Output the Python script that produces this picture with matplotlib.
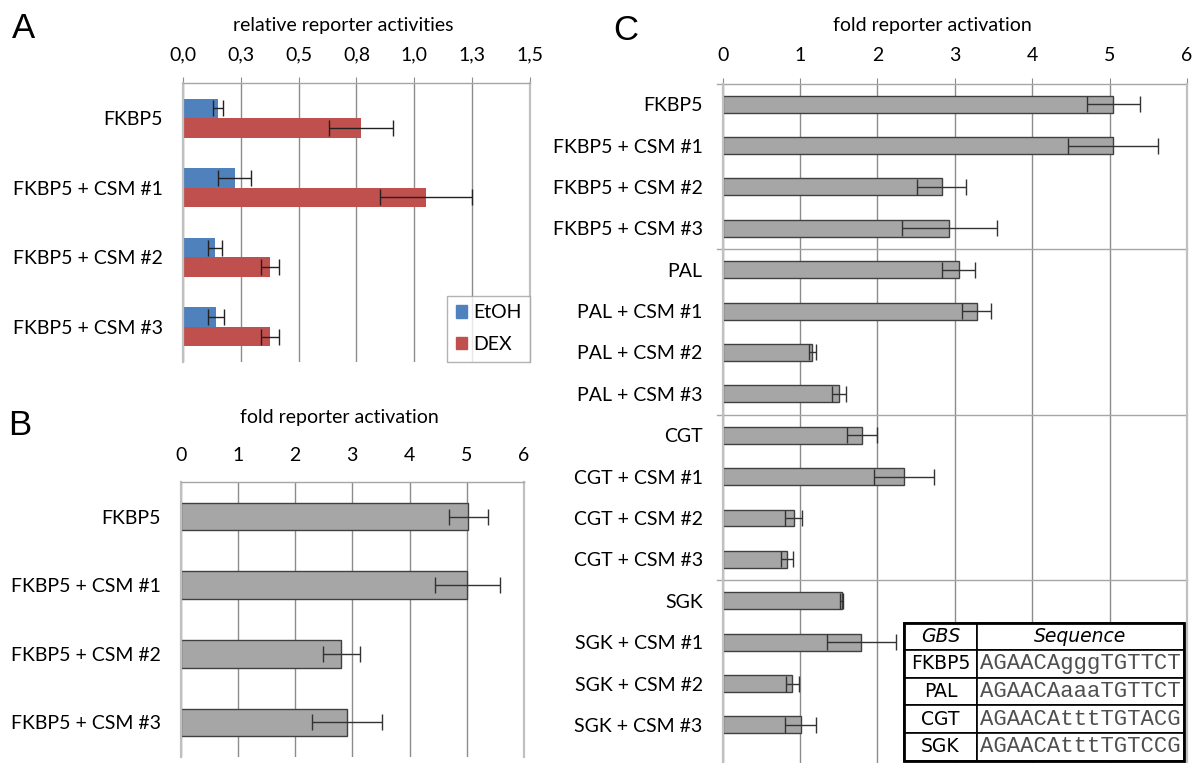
import matplotlib
matplotlib.use("Agg")
import matplotlib.pyplot as plt
from matplotlib.patches import Patch, Rectangle

plt.rcParams["font.family"] = ["Lato", "DejaVu Sans"]

W, H = 1194, 763

# panel A: relative reporter activities
a_labels = ["FKBP5", "FKBP5 + CSM #1", "FKBP5 + CSM #2", "FKBP5 + CSM #3"]
a_etoh = [0.152, 0.224, 0.141, 0.145]
a_etoh_err = [0.021, 0.072, 0.030, 0.034]
a_dex = [0.770, 1.049, 0.378, 0.378]
a_dex_err = [0.137, 0.199, 0.038, 0.038]
a_ticks = [0.0, 0.25, 0.5, 0.75, 1.0, 1.25, 1.5]
a_ticklabels = ["0,0", "0,3", "0,5", "0,8", "1,0", "1,3", "1,5"]

# panel B: fold reporter activation
b_labels = ["FKBP5", "FKBP5 + CSM #1", "FKBP5 + CSM #2", "FKBP5 + CSM #3"]
b_vals = [5.03, 5.01, 2.81, 2.91]
b_err = [0.345, 0.565, 0.32, 0.61]

# panel C: fold reporter activation, four GBS
c_labels = [
    "FKBP5", "FKBP5 + CSM #1", "FKBP5 + CSM #2", "FKBP5 + CSM #3",
    "PAL", "PAL + CSM #1", "PAL + CSM #2", "PAL + CSM #3",
    "CGT", "CGT + CSM #1", "CGT + CSM #2", "CGT + CSM #3",
    "SGK", "SGK + CSM #1", "SGK + CSM #2", "SGK + CSM #3",
]
c_vals = [5.05, 5.04, 2.83, 2.93, 3.05, 3.28, 1.16, 1.50,
          1.80, 2.34, 0.92, 0.83, 1.54, 1.79, 0.90, 1.01]
c_err = [0.345, 0.58, 0.32, 0.61, 0.21, 0.19, 0.045, 0.09,
         0.19, 0.39, 0.11, 0.075, 0.02, 0.445, 0.08, 0.20]
fold_ticks = [0, 1, 2, 3, 4, 5, 6]

table_gbs = ["FKBP5", "PAL", "CGT", "SGK"]
table_seq = ["AGAACAgggTGTTCT", "AGAACAaaaTGTTCT", "AGAACAtttTGTACG", "AGAACAtttTGTCCG"]

BLUE = "#4f81bd"
RED = "#c0504d"
GREY_BAR = "#a6a6a6"
GRID = "#8c8c8c"
LIGHT = "#c0c0c0"
FS = 14


def px_axes(fig, left, top, right, bottom):
    return fig.add_axes([left / W, 1 - bottom / H, (right - left) / W, (bottom - top) / H])


def style_axes(ax, ticks, ticklabels, xmax, top_ticks=True):
    ax.set_xlim(0, xmax)
    ax.xaxis.tick_top()
    ax.set_xticks(ticks)
    ax.set_xticklabels(ticklabels, fontsize=FS)
    if top_ticks:
        ax.tick_params(axis="x", length=4.3, color=GRID, pad=10)
    else:
        ax.tick_params(axis="x", length=0, pad=13)
    ax.tick_params(axis="y", length=0, pad=14.4, labelsize=FS)
    ax.grid(axis="x", color=GRID, lw=1)
    ax.set_axisbelow(True)
    ax.spines["bottom"].set_visible(False)
    ax.spines["left"].set_color(LIGHT)
    ax.spines["left"].set_linewidth(1.6)
    ax.spines["right"].set_color(LIGHT)
    ax.spines["right"].set_linewidth(1.6)
    ax.spines["top"].set_color("#a6a6a6")
    ax.spines["top"].set_linewidth(1)


fig = plt.figure(figsize=(W / 100, H / 100), dpi=100)

# ---- A ----
ax = px_axes(fig, 182.7, 83.3, 530.2, 361.7)
pos = list(range(len(a_labels)))
h = 0.28
ax.barh([p - h / 2 for p in pos], a_etoh, height=h, color=BLUE, label="EtOH")
ax.barh([p + h / 2 for p in pos], a_dex, height=h, color=RED, label="DEX")
ax.errorbar(a_etoh, [p - h / 2 for p in pos], xerr=a_etoh_err, fmt="none",
            ecolor="#222222", elinewidth=1, capsize=5.5)
ax.errorbar(a_dex, [p + h / 2 for p in pos], xerr=a_dex_err, fmt="none",
            ecolor="#222222", elinewidth=1, capsize=5.5)
ax.set_yticks(pos)
ax.set_yticklabels(a_labels)
ax.set_ylim(3.5, -0.5)
style_axes(ax, a_ticks, a_ticklabels, 1.5)
handles = [Patch(color=BLUE, label="EtOH"), Patch(color=RED, label="DEX")]
leg = ax.legend(handles=handles, loc="lower right", bbox_to_anchor=(1, 0),
                borderaxespad=0, fontsize=FS, frameon=True, fancybox=False,
                handlelength=0.6, handleheight=0.6, handletextpad=0.3,
                labelspacing=0.75, borderpad=0.45)
leg.get_frame().set_edgecolor("#a0a0a0")
leg.get_frame().set_linewidth(1)

# ---- B ----
ax = px_axes(fig, 180.7, 482.3, 523.9, 756.7)
pos = list(range(len(b_labels)))
ax.barh(pos, b_vals, height=0.40, color=GREY_BAR, edgecolor="#404040", lw=1)
ax.errorbar(b_vals, pos, xerr=b_err, fmt="none", ecolor="#333333",
            elinewidth=1, capsize=6)
ax.set_yticks(pos)
ax.set_yticklabels(b_labels)
ax.set_ylim(3.5, -0.5)
style_axes(ax, fold_ticks, [str(t) for t in fold_ticks], 6, top_ticks=False)

# ---- C ----
ax = px_axes(fig, 722.7, 83.5, 1187.0, 763.0)
pos = list(range(len(c_labels)))
ax.barh(pos, c_vals, height=0.41, color=GREY_BAR, edgecolor="#404040", lw=1)
ax.errorbar(c_vals, pos, xerr=c_err, fmt="none", ecolor="#333333",
            elinewidth=1, capsize=6)
ax.set_yticks(pos)
ax.set_yticklabels(c_labels)
ax.set_ylim(15.92, -0.5)
style_axes(ax, fold_ticks, [str(t) for t in fold_ticks], 6)
ax.spines["top"].set_visible(False)
for yb in [-0.5, 3.5, 7.5, 11.5]:
    ax.axhline(yb, xmin=-6 / 464.3, xmax=1, color="#a6a6a6", lw=1, clip_on=False)

# table of GBS sequences
tab = px_axes(fig, 904.3, 622.5, 1184.0, 760.5)
tab.axis("off")
cells = [[g, s] for g, s in zip(table_gbs, table_seq)]
tbl = tab.table(cellText=cells, colLabels=["GBS", "Sequence"],
                bbox=[0, 0, 1, 1], colWidths=[0.259, 0.741], cellLoc="center")
tbl.auto_set_font_size(False)
for (r, c), cell in tbl.get_celld().items():
    cell.set_edgecolor("black")
    cell.set_linewidth(1.2)
    cell.set_facecolor("white")
    txt = cell.get_text()
    if r == 0:
        txt.set_fontsize(13.5)
        txt.set_fontfamily("DejaVu Sans")
        txt.set_fontstyle("italic")
    elif c == 1:
        txt.set_fontsize(16)
        txt.set_fontfamily("Liberation Mono")
        txt.set_color("#505050")
    else:
        txt.set_fontsize(13.5)
        txt.set_fontfamily("DejaVu Sans")
tab.add_patch(Rectangle((0, 0), 1, 1, transform=tab.transAxes, fill=False,
                        edgecolor="black", lw=2, clip_on=False, zorder=5))

# titles and panel letters
fig.text(343 / W, 1 - 25 / H, "relative reporter activities", fontsize=FS,
         ha="center", va="center")
fig.text(339.5 / W, 1 - 417.3 / H, "fold reporter activation", fontsize=FS,
         ha="center", va="center")
fig.text(932.8 / W, 1 - 26 / H, "fold reporter activation", fontsize=FS,
         ha="center", va="center")
for letter, x, y in [("A", 24, 28), ("B", 20, 426), ("C", 626, 31)]:
    fig.text(x / W, 1 - y / H, letter, fontsize=25, family="Liberation Sans",
             ha="center", va="center")

fig.savefig("out.png", dpi=100)
